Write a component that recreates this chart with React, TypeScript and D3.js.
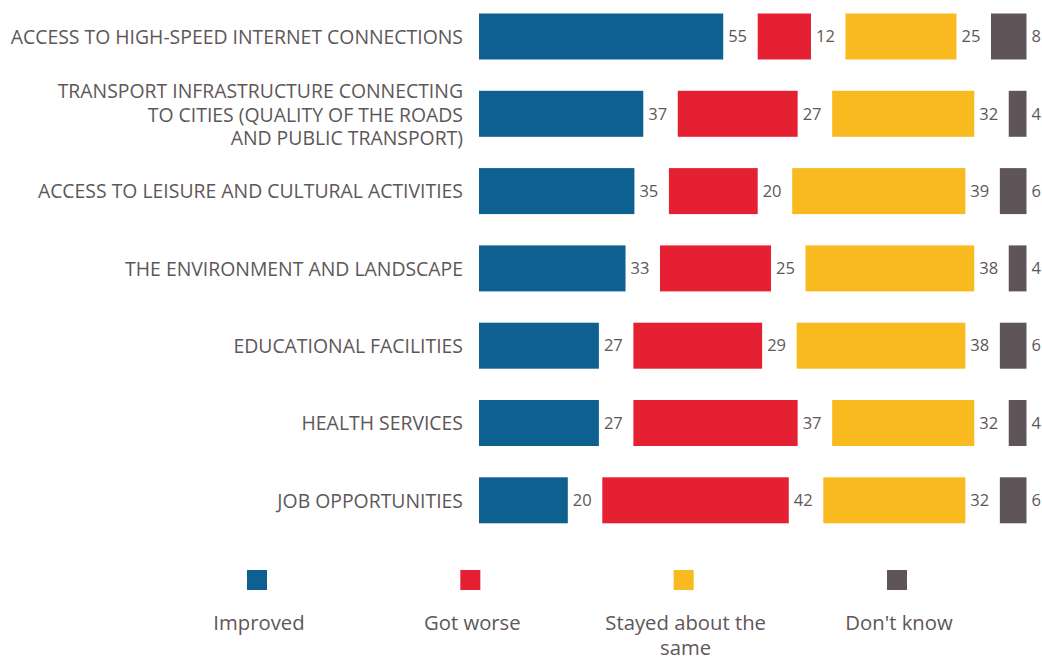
import React from "react";
import * as d3 from "d3";

const categories = [
  "ACCESS TO HIGH-SPEED INTERNET CONNECTIONS",
  "TRANSPORT INFRASTRUCTURE CONNECTING\nTO CITIES (QUALITY OF THE ROADS\nAND PUBLIC TRANSPORT)",
  "ACCESS TO LEISURE AND CULTURAL ACTIVITIES",
  "THE ENVIRONMENT AND LANDSCAPE",
  "EDUCATIONAL FACILITIES",
  "HEALTH SERVICES",
  "JOB OPPORTUNITIES",
];
const improved = [55, 37, 35, 33, 27, 27, 20];
const gotWorse = [12, 27, 20, 25, 29, 37, 42];
const stayedSame = [25, 32, 39, 38, 38, 32, 32];
const dontKnow = [8, 4, 6, 4, 6, 4, 6];
const seriesKeys = ["Improved", "Got worse", "Stayed about the same", "Don't know"];
const legendLabels = [["Improved"], ["Got worse"], ["Stayed about the", "same"], ["Don't know"]];
const seriesColors = ["#0E6090", "#E52032", "#F9BA20", "#5F5559"];

const W = 1042;
const H = 657;
const FONT = "'Open Sans', 'Noto Sans', sans-serif";
const TEXT = "#5E5759";

export default function App() {
  const rows = categories.map((c, i) => ({
    category: c,
    Improved: improved[i],
    "Got worse": gotWorse[i],
    "Stayed about the same": stayedSame[i],
    "Don't know": dontKnow[i],
  }));
  const stacked = d3.stack<any>().keys(seriesKeys)(rows);

  const barLeft = 479;
  const gap = 34.5;
  const x = d3.scaleLinear().domain([0, 100]).range([0, 444]);
  const y = d3
    .scaleBand<string>()
    .domain(categories)
    .range([-2.15, 538.95])
    .paddingInner(0.405)
    .paddingOuter(0.2025);
  const color = d3.scaleOrdinal<string, string>().domain(seriesKeys).range(seriesColors);
  const legendX = d3.scalePoint<string>().domain(seriesKeys).range([257, 897]);

  return (
    <svg
      width={W}
      height={H}
      style={{ position: "absolute", left: 0, top: 0, display: "block", background: "#fff" }}
      fontFamily={FONT}
    >
      {categories.map((c) => {
        const lines = c.split("\n");
        const cy = (y(c) as number) + y.bandwidth() / 2 + (lines.length > 1 ? 1 : 0.5);
        const lh = 23.3;
        return (
          <text key={c} x={463} textAnchor="end" fontSize={19.4} fill={TEXT}>
            {lines.map((ln, k) => (
              <tspan key={k} x={463} y={cy + (k - (lines.length - 1) / 2) * lh} dy="0.35em">
                {ln}
              </tspan>
            ))}
          </text>
        );
      })}
      {stacked.map((s, j) => (
        <g key={s.key} fill={color(s.key)}>
          {s.map((d, i) => {
            const x0 = barLeft + x(d[0]) + j * gap;
            const w = x(d[1]) - x(d[0]);
            const yy = y(categories[i]) as number;
            return (
              <g key={i}>
                <rect x={x0} y={yy} width={w} height={y.bandwidth()} />
                <text
                  x={x0 + w + 5}
                  y={yy + y.bandwidth() / 2}
                  dy="0.35em"
                  fontSize={16.5}
                  fill={TEXT}
                >
                  {d[1] - d[0]}
                </text>
              </g>
            );
          })}
        </g>
      ))}
      {seriesKeys.map((k, i) => {
        const cx = legendX(k) as number;
        return (
          <g key={k}>
            <rect x={cx - 10} y={570} width={20} height={20} fill={color(k)} />
            <text textAnchor="middle" fontSize={20.3} fill={TEXT}>
              {legendLabels[i].map((ln, m) => (
                <tspan key={m} x={cx + 2} y={623 + m * 25} dy="0.35em">
                  {ln}
                </tspan>
              ))}
            </text>
          </g>
        );
      })}
    </svg>
  );
}
